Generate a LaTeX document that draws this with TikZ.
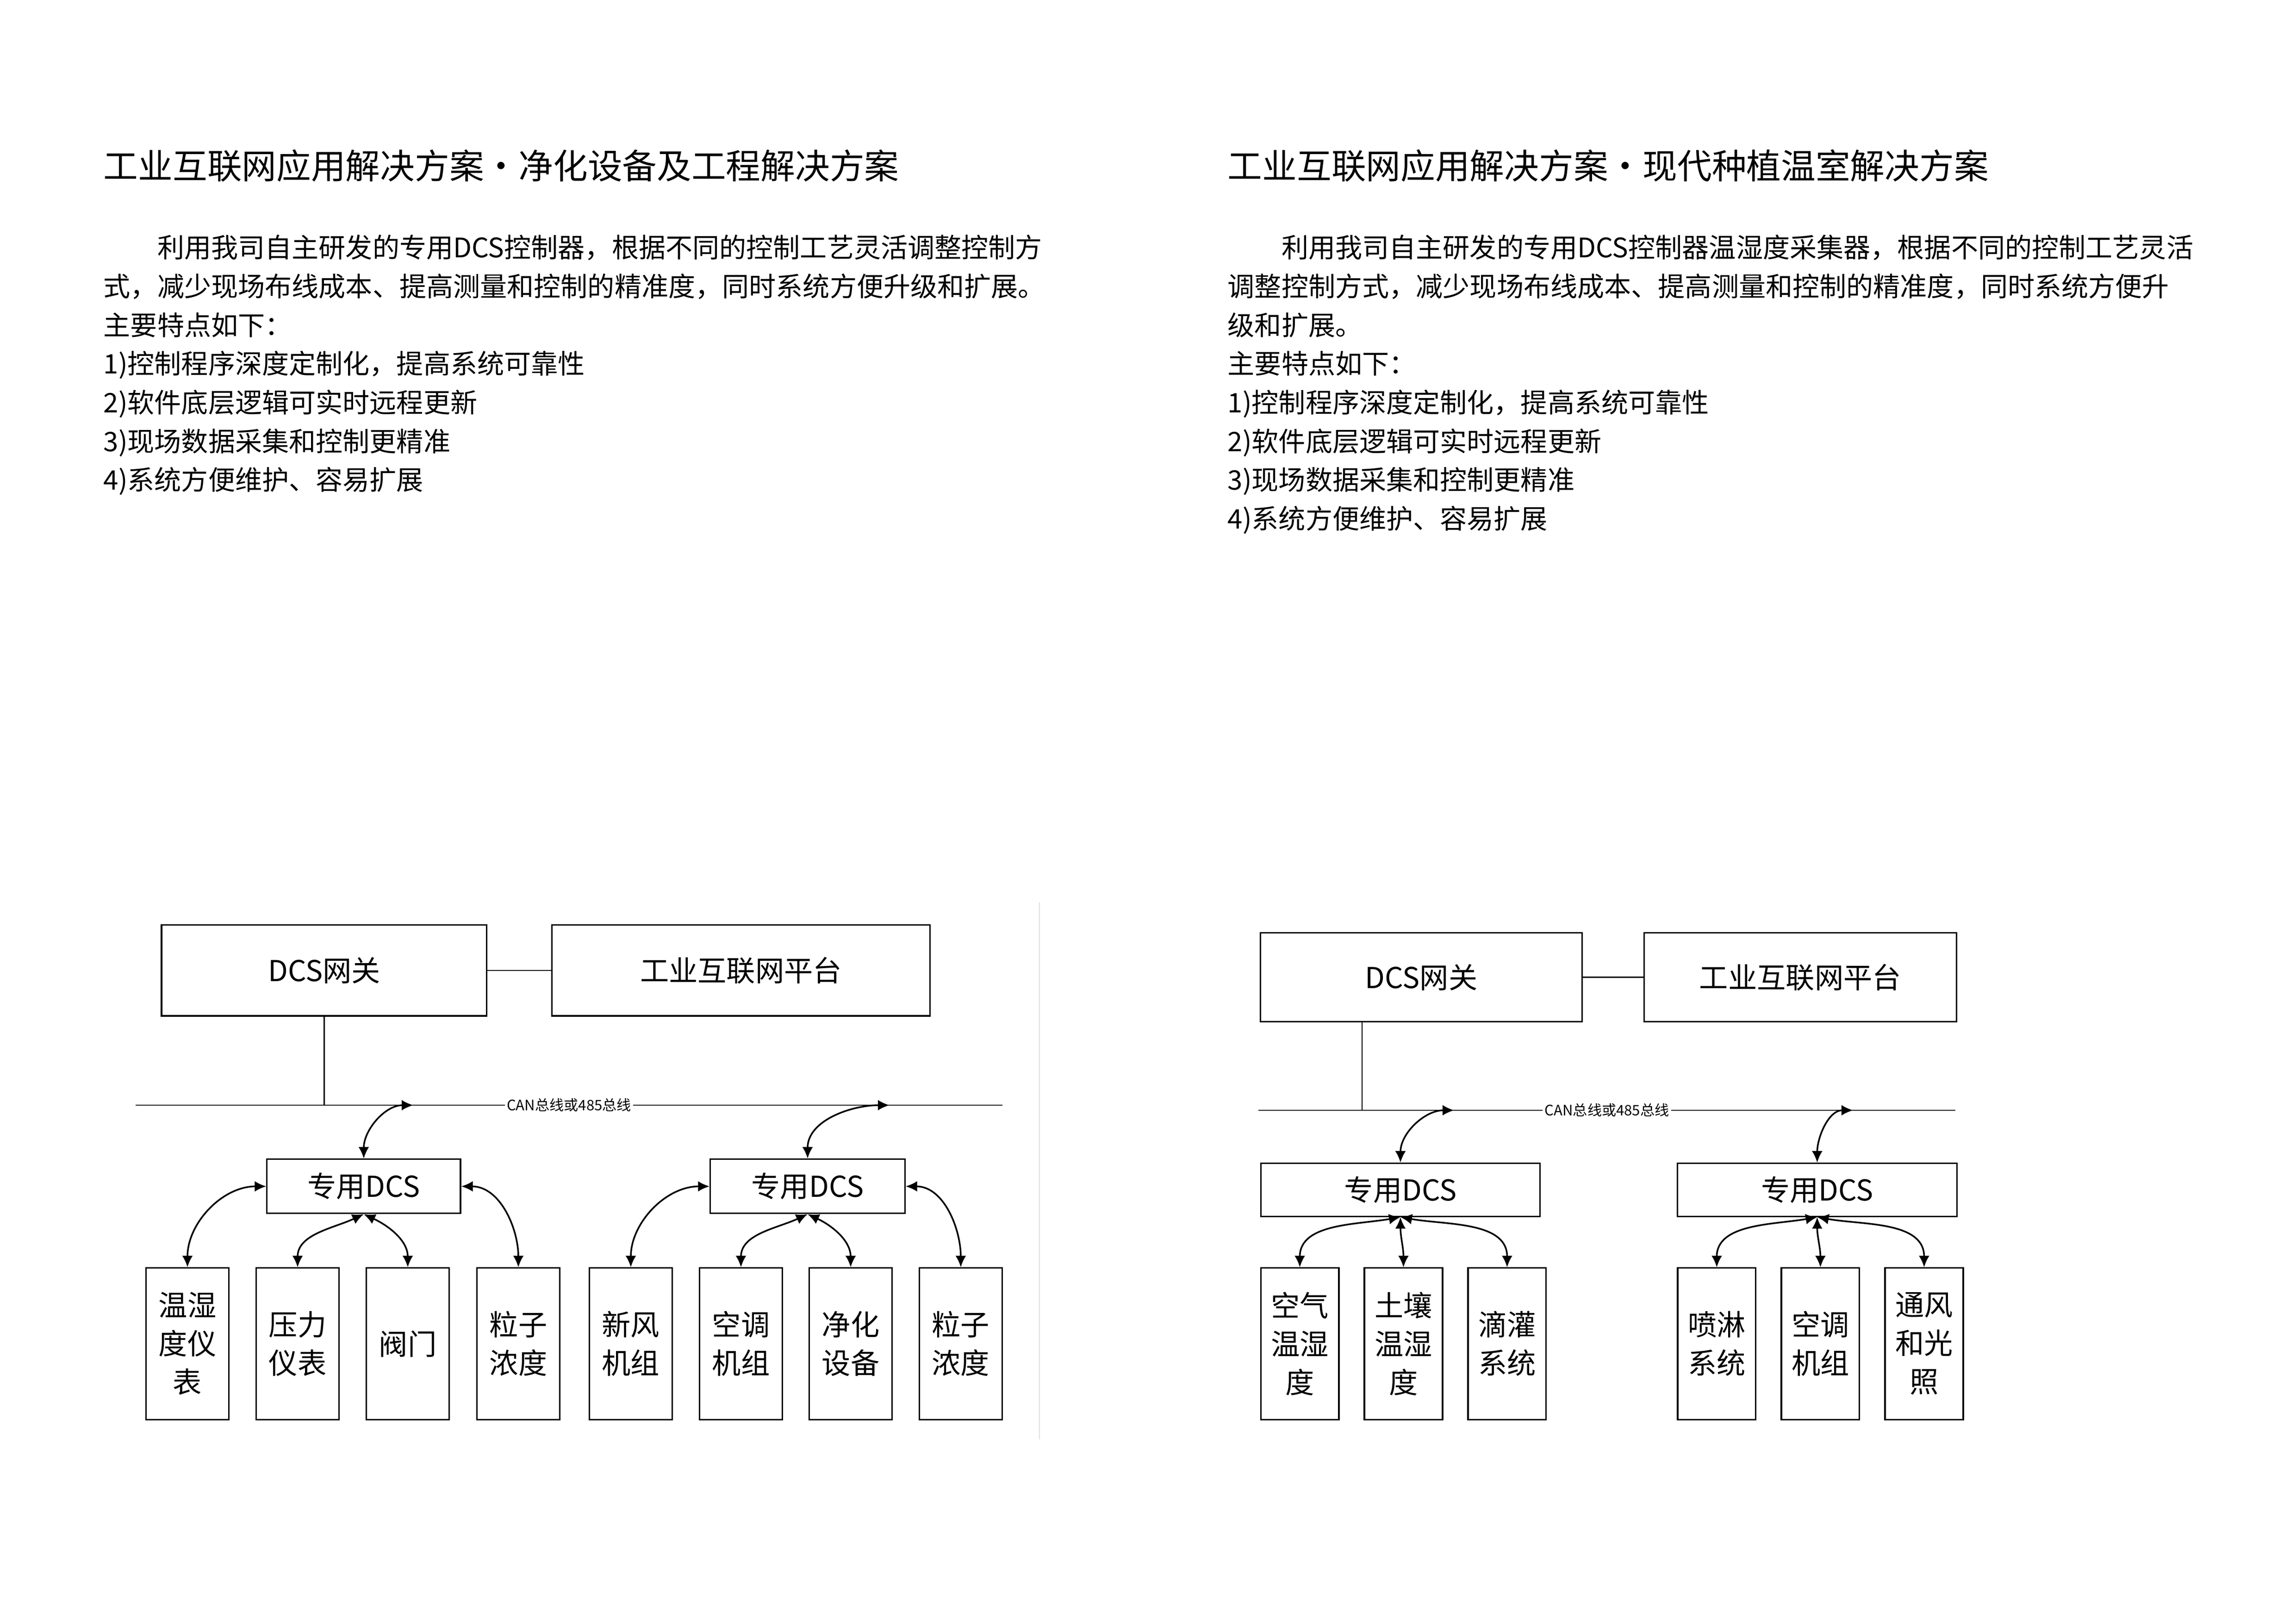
\documentclass[tikz,border=0pt]{standalone}
\usepackage{fontspec}
\setmainfont{Noto Sans CJK SC}
\usetikzlibrary{arrows.meta}

\begin{document}
\begin{tikzpicture}[
    box/.style={draw=black, line width=0.75pt, fill=white, inner sep=0pt,
        font=\fontsize{15}{20}\selectfont, align=center},
    unit/.style={box, minimum height=2.77cm},
    heading/.style={anchor=west, inner sep=0pt, font=\fontsize{18}{22}\selectfont},
    para/.style={anchor=west, inner sep=0pt, text height=12pt, text depth=2pt,
        font=\fontsize{14}{17}\selectfont},
    wire/.style={line width=0.6pt, -},
    link/.style={line width=0.85pt, >={Latex[length=6pt,width=5.5pt]}, <->},
    buslabel/.style={fill=white, inner sep=1pt, font=\fontsize{7.5}{9}\selectfont},
    divider/.style={gray!25, line width=0.6pt}
]
    \useasboundingbox (0,0) rectangle (42,29.7);

    \node[heading] (title1) at (1.888,26.669) {工业互联网应用解决方案・净化设备及工程解决方案};
    \node[para] (p1a) at (1.888,25.162) {\hspace*{2em}利用我司自主研发的专用DCS控制器，根据不同的控制工艺灵活调整控制方};
    \node[para] (p1b) at (1.888,24.453) {式，减少现场布线成本、提高测量和控制的精准度，同时系统方便升级和扩展。};
    \node[para] (p1c) at (1.888,23.745) {主要特点如下：};
    \node[para] (p1d) at (1.888,23.036) {1)控制程序深度定制化，提高系统可靠性};
    \node[para] (p1e) at (1.888,22.328) {2)软件底层逻辑可实时远程更新};
    \node[para] (p1f) at (1.888,21.619) {3)现场数据采集和控制更精准};
    \node[para] (p1g) at (1.888,20.910) {4)系统方便维护、容易扩展};

    \node[heading] (title2) at (22.452,26.669) {工业互联网应用解决方案・现代种植温室解决方案};
    \node[para] (p2a) at (22.452,25.162) {\hspace*{2em}利用我司自主研发的专用DCS控制器温湿度采集器，根据不同的控制工艺灵活};
    \node[para] (p2b) at (22.452,24.453) {调整控制方式，减少现场布线成本、提高测量和控制的精准度，同时系统方便升};
    \node[para] (p2c) at (22.452,23.745) {级和扩展。};
    \node[para] (p2d) at (22.452,23.036) {主要特点如下：};
    \node[para] (p2e) at (22.452,22.328) {1)控制程序深度定制化，提高系统可靠性};
    \node[para] (p2f) at (22.452,21.619) {2)软件底层逻辑可实时远程更新};
    \node[para] (p2g) at (22.452,20.910) {3)现场数据采集和控制更精准};
    \node[para] (p2h) at (22.452,20.202) {4)系统方便维护、容易扩展};

    \draw[divider] (19.015,13.191) -- (19.015,3.371);

    \node[box, minimum width=5.95cm, minimum height=1.66cm] (gw1) at (5.930,11.947) {DCS网关};
    \node[box, minimum width=6.91cm, minimum height=1.66cm] (plat1) at (13.554,11.947) {工业互联网平台};
    \node[box, minimum width=3.54cm, minimum height=0.99cm] (dcs1a) at (6.654,7.998) {专用DCS};
    \node[box, minimum width=3.56cm, minimum height=0.99cm] (dcs1b) at (14.773,7.998) {专用DCS};
    \node[unit, minimum width=1.52cm] (u1) at (3.429,5.119) {温湿\\度仪\\表};
    \node[unit, minimum width=1.52cm] (u2) at (5.444,5.119) {压力\\仪表};
    \node[unit, minimum width=1.52cm] (u3) at (7.459,5.119) {阀门};
    \node[unit, minimum width=1.52cm] (u4) at (9.482,5.119) {粒子\\浓度};
    \node[unit, minimum width=1.52cm] (u5) at (11.539,5.119) {新风\\机组};
    \node[unit, minimum width=1.52cm] (u6) at (13.554,5.119) {空调\\机组};
    \node[unit, minimum width=1.52cm] (u7) at (15.561,5.119) {净化\\设备};
    \node[unit, minimum width=1.52cm] (u8) at (17.575,5.119) {粒子\\浓度};
    \coordinate (bus1w) at (2.481,9.483);
    \coordinate (bus1e) at (18.337,9.483);
    \coordinate (tap1a) at (7.560,9.483);
    \coordinate (tap1b) at (16.271,9.483);
    \draw[wire] (gw1.east) -- (plat1.west);
    \draw[wire] (gw1.south) -- (gw1.south |- bus1w);
    \draw[wire] (bus1w) -- node[buslabel] {CAN总线或485总线} (bus1e);
    \draw[link] (dcs1a.north) to[out=90,in=180] (tap1a);
    \draw[link] (dcs1b.north) to[out=90,in=180] (tap1b);
    \draw[link] (dcs1a.west) to[out=180,in=90] (u1.north);
    \draw[link] (dcs1a.south) to[out=-155,in=90] (u2.north);
    \draw[link] (dcs1a.south) to[out=-25,in=90] (u3.north);
    \draw[link] (dcs1a.east) to[out=0,in=90] (u4.north);
    \draw[link] (dcs1b.west) to[out=180,in=90] (u5.north);
    \draw[link] (dcs1b.south) to[out=-155,in=90] (u6.north);
    \draw[link] (dcs1b.south) to[out=-25,in=90] (u7.north);
    \draw[link] (dcs1b.east) to[out=0,in=90] (u8.north);

    \node[box, minimum width=5.88cm, minimum height=1.63cm] (gw2) at (25.999,11.824) {DCS网关};
    \node[box, minimum width=5.72cm, minimum height=1.63cm] (plat2) at (32.932,11.824) {工业互联网平台};
    \node[box, minimum width=5.11cm, minimum height=0.97cm] (dcs2a) at (25.618,7.934) {专用DCS};
    \node[box, minimum width=5.11cm, minimum height=0.97cm] (dcs2b) at (33.241,7.934) {专用DCS};
    \node[unit, minimum width=1.43cm] (v1) at (23.777,5.119) {空气\\温湿\\度};
    \node[unit, minimum width=1.43cm] (v2) at (25.673,5.119) {土壤\\温湿\\度};
    \node[unit, minimum width=1.43cm] (v3) at (27.569,5.119) {滴灌\\系统};
    \node[unit, minimum width=1.43cm] (v4) at (31.404,5.119) {喷淋\\系统};
    \node[unit, minimum width=1.43cm] (v5) at (33.300,5.119) {空调\\机组};
    \node[unit, minimum width=1.43cm] (v6) at (35.197,5.119) {通风\\和光\\照};
    \coordinate (bus2w) at (23.019,9.390);
    \coordinate (bus2e) at (35.769,9.390);
    \coordinate (drop2) at (24.916,9.390);
    \coordinate (tap2a) at (26.600,9.390);
    \coordinate (tap2b) at (33.898,9.390);
    \draw[wire] (gw2.east) -- (plat2.west);
    \draw[wire] (drop2 |- gw2.south) -- (drop2);
    \draw[wire] (bus2w) -- node[buslabel] {CAN总线或485总线} (bus2e);
    \draw[link] (dcs2a.north) to[out=90,in=180] (tap2a);
    \draw[link] (dcs2b.north) to[out=90,in=180] (tap2b);
    \draw[link] (dcs2a.south) to[out=-170,in=90] (v1.north);
    \draw[link] (dcs2a.south) to[out=-90,in=90] (v2.north);
    \draw[link] (dcs2a.south) to[out=-10,in=90] (v3.north);
    \draw[link] (dcs2b.south) to[out=-170,in=90] (v4.north);
    \draw[link] (dcs2b.south) to[out=-90,in=90] (v5.north);
    \draw[link] (dcs2b.south) to[out=-10,in=90] (v6.north);
\end{tikzpicture}
\end{document}
